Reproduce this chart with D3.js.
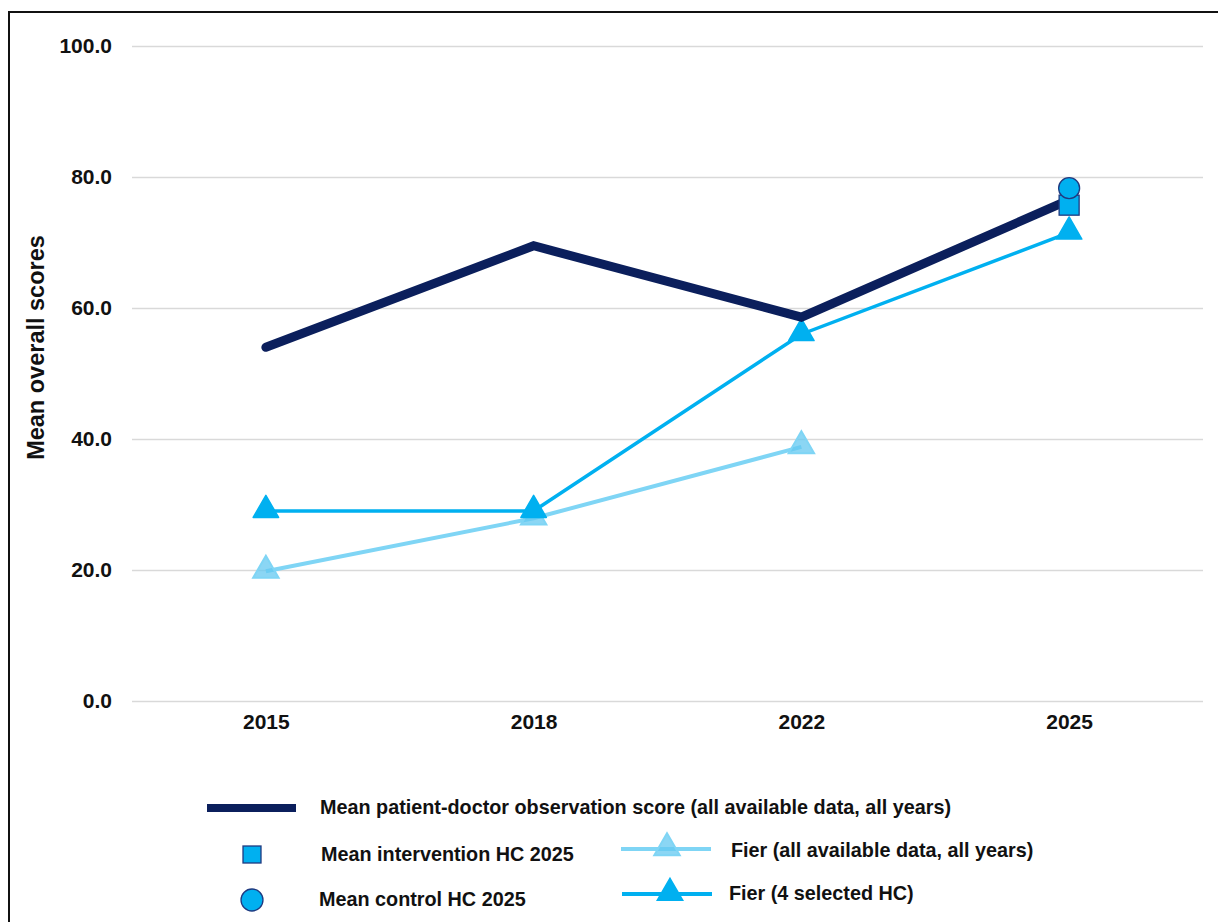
<!DOCTYPE html>
<html>
<head>
<meta charset="utf-8">
<script src="https://cdn.jsdelivr.net/npm/d3@7"></script>
<style>
  html, body { margin: 0; padding: 0; background: #fff; }
  svg { display: block; font-family: "Liberation Sans", Arial, sans-serif; }
</style>
</head>
<body>
<svg id="chart" width="1218" height="922"></svg>
<script>
// Survey years and mean overall scores
const years = ["2015", "2018", "2022", "2025"];
const yTicks = [0, 20, 40, 60, 80, 100];
const observationScore = [54.0, 69.5, 58.6, 76.5];
const fierAll = [19.8, 27.9, 38.8];
const fierSelected = [29.0, 29.0, 56.0, 71.5];
const interventionHC2025 = 75.7;
const controlHC2025 = 78.3;

const legendLabels = {
  observation: "Mean patient-doctor observation score (all available data, all years)",
  intervention: "Mean intervention HC 2025",
  control: "Mean control HC 2025",
  fierAll: "Fier (all available data, all years)",
  fierSelected: "Fier (4 selected HC)"
};

const NAVY = "#0b1f5c";
const BLUE = "#00b0f0";
const LIGHT = "#7fd5f5";
const FONT = "Liberation Sans, Arial, sans-serif";

const svg = d3.select("#chart");

// Outer frame
svg.append("rect")
  .attr("x", 9).attr("y", 12)
  .attr("width", 1240).attr("height", 940)
  .attr("fill", "none").attr("stroke", "#111").attr("stroke-width", 2);

const plot = { left: 132, right: 1203, top: 46, bottom: 701 };

const x = d3.scalePoint().domain(years).range([plot.left, plot.right]).padding(0.5);
const y = d3.scaleLinear().domain([0, 100]).range([plot.bottom, plot.top]);

// Horizontal gridlines with y tick labels
const yAxis = svg.append("g")
  .attr("transform", `translate(${plot.left},0)`)
  .call(d3.axisLeft(y).tickValues(yTicks).tickFormat(d3.format(".1f"))
    .tickSize(-(plot.right - plot.left)).tickPadding(20));
yAxis.select(".domain").remove();
yAxis.selectAll(".tick line").attr("stroke", "#d9d9d9").attr("stroke-width", 1.3);
yAxis.selectAll(".tick text")
  .attr("font-size", 21).attr("font-weight", "bold").attr("fill", "#111")
  .attr("font-family", FONT);

// Year labels along the bottom
const xAxis = svg.append("g")
  .attr("transform", `translate(0,${plot.bottom})`)
  .call(d3.axisBottom(x).tickSize(0).tickPadding(13));
xAxis.select(".domain").remove();
xAxis.selectAll(".tick text")
  .attr("font-size", 21).attr("font-weight", "bold").attr("fill", "#111")
  .attr("font-family", FONT);

// Y-axis title
svg.append("text")
  .attr("transform", `translate(44,${(plot.top + plot.bottom) / 2 - 26}) rotate(-90)`)
  .attr("text-anchor", "middle")
  .attr("font-size", 23.5).attr("font-weight", "bold").attr("fill", "#111")
  .text("Mean overall scores");

const line = d3.line().x((d, i) => x(years[i])).y(d => y(d));
const tri = d3.symbol().type(d3.symbolTriangle).size(280);

// Fier, all available data
svg.append("path")
  .datum(fierAll)
  .attr("d", line)
  .attr("fill", "none").attr("stroke", LIGHT).attr("stroke-width", 4);
svg.selectAll(".tri-all")
  .data(fierAll).enter().append("path")
  .attr("transform", (d, i) => `translate(${x(years[i])},${y(d) - 1})`)
  .attr("d", tri)
  .attr("fill", "rgba(100,200,240,0.75)").attr("stroke", LIGHT).attr("stroke-width", 2);

// Fier, 4 selected health centres
svg.append("path")
  .datum(fierSelected)
  .attr("d", line)
  .attr("fill", "none").attr("stroke", BLUE).attr("stroke-width", 3.5);
svg.selectAll(".tri-sel")
  .data(fierSelected).enter().append("path")
  .attr("transform", (d, i) => `translate(${x(years[i])},${y(d) - 1})`)
  .attr("d", tri)
  .attr("fill", BLUE).attr("stroke", BLUE).attr("stroke-width", 1.5)
  .attr("stroke-linejoin", "round");

// Mean patient-doctor observation score
svg.append("path")
  .datum(observationScore)
  .attr("d", line)
  .attr("fill", "none").attr("stroke", NAVY).attr("stroke-width", 9)
  .attr("stroke-linecap", "round").attr("stroke-linejoin", "miter");

// 2025 intervention and control health centres
svg.append("rect")
  .attr("x", x("2025") - 10).attr("y", y(interventionHC2025) - 10)
  .attr("width", 20).attr("height", 20)
  .attr("fill", BLUE).attr("stroke", "#1f3a80").attr("stroke-width", 1.3);
svg.append("circle")
  .attr("cx", x("2025")).attr("cy", y(controlHC2025)).attr("r", 10.5)
  .attr("fill", BLUE).attr("stroke", "#1f3a80").attr("stroke-width", 1.3);

// Legend
const lg = svg.append("g").attr("font-size", 19.8).attr("font-weight", "bold").attr("fill", "#111");
const legendText = (tx, ty, s) => lg.append("text").attr("x", tx).attr("y", ty)
  .attr("dominant-baseline", "middle").text(s);

lg.append("line").attr("x1", 207).attr("x2", 296).attr("y1", 808).attr("y2", 808)
  .attr("stroke", NAVY).attr("stroke-width", 8);
legendText(320, 809, legendLabels.observation);

lg.append("rect").attr("x", 243).attr("y", 846).attr("width", 18).attr("height", 17)
  .attr("fill", BLUE).attr("stroke", "#1f3a80").attr("stroke-width", 1.3);
legendText(321, 856, legendLabels.intervention);

lg.append("circle").attr("cx", 252).attr("cy", 900).attr("r", 11)
  .attr("fill", BLUE).attr("stroke", "#1f3a80").attr("stroke-width", 1.3);
legendText(319, 901, legendLabels.control);

lg.append("line").attr("x1", 621).attr("x2", 711).attr("y1", 849).attr("y2", 849)
  .attr("stroke", LIGHT).attr("stroke-width", 4);
lg.append("path").attr("transform", "translate(667,848)").attr("d", tri)
  .attr("fill", "rgba(100,200,240,0.75)").attr("stroke", LIGHT).attr("stroke-width", 2);
legendText(731, 852, legendLabels.fierAll);

lg.append("line").attr("x1", 622).attr("x2", 712).attr("y1", 894).attr("y2", 894)
  .attr("stroke", BLUE).attr("stroke-width", 4);
lg.append("path").attr("transform", "translate(670,893)").attr("d", tri)
  .attr("fill", BLUE).attr("stroke", BLUE).attr("stroke-width", 1.5);
legendText(729, 895, legendLabels.fierSelected);
</script>
</body>
</html>
